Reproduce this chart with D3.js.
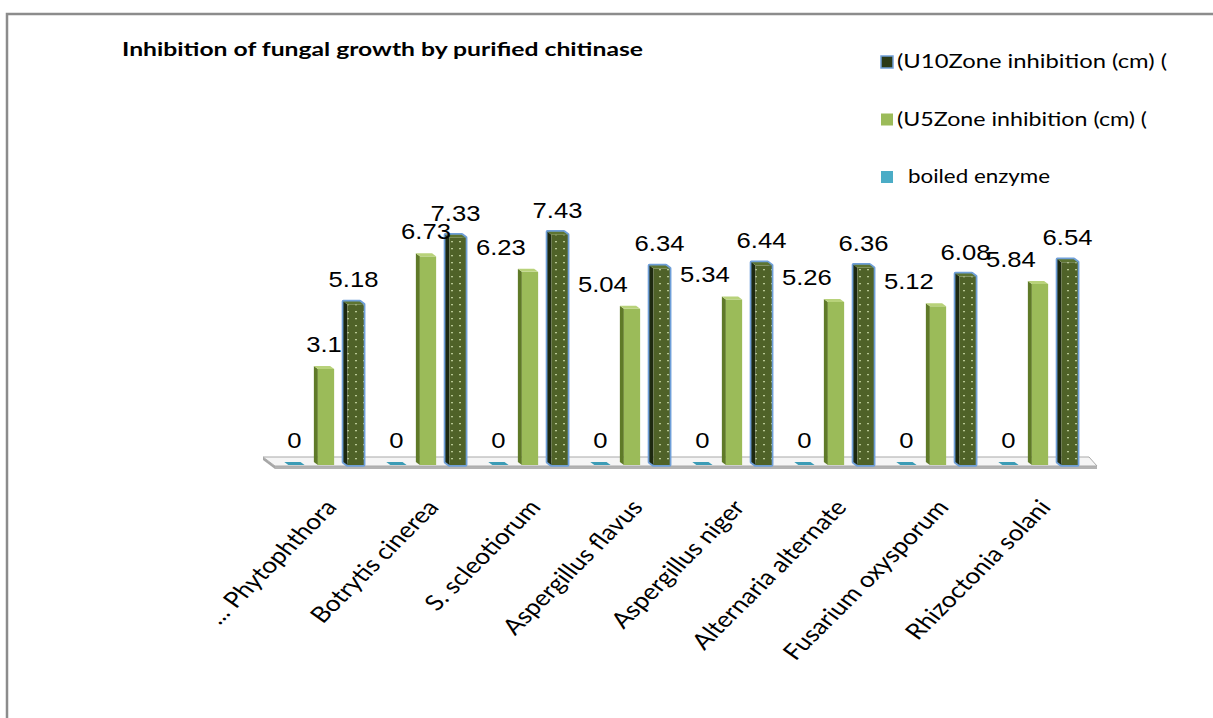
<!DOCTYPE html>
<html>
<head>
<meta charset="utf-8">
<script src="https://cdn.jsdelivr.net/npm/d3@7"></script>
<style>
  html, body { margin: 0; padding: 0; background: #fff; }
  svg { display: block; }
</style>
</head>
<body>
<svg id="chart" width="1213" height="718"></svg>
<script>
// Fungal species tested
const categories = [
  "... Phytophthora", "Botrytis cinerea", "S. scleotiorum", "Aspergillus flavus",
  "Aspergillus niger", "Alternaria alternate", "Fusarium oxysporum", "Rhizoctonia solani"
];
// Zone of inhibition (cm) per treatment
const boiledEnzyme = [0, 0, 0, 0, 0, 0, 0, 0];
const u5Zone  = [3.1, 6.73, 6.23, 5.04, 5.34, 5.26, 5.12, 5.84];
const u10Zone = [5.18, 7.33, 7.43, 6.34, 6.44, 6.36, 6.08, 6.54];
// Series names as shown in the legend
const seriesNames = ["(U10Zone inhibition (cm) (", "(U5Zone inhibition (cm) (", "boiled enzyme"];
// Where each U5 value label sits relative to its column
const u5LabelSide = ["top", "top", "left", "left", "left", "left", "left", "left"];

const title = "Inhibition of fungal  growth by purified chitinase";

const svg = d3.select("#chart");

// Chart frame (top and left rules)
svg.append("path")
  .attr("d", "M7,718 L7,14 L1213,14")
  .attr("fill", "none")
  .attr("stroke", "#8c8c8c")
  .attr("stroke-width", 2.5);

// Scales
const x0 = d3.scaleBand().domain(categories).range([275, 1091]);
const seriesKeys = ["boiled", "u5", "u10"];
const x1 = d3.scaleBand().domain(seriesKeys).range([0, x0.bandwidth()])
  .paddingInner(0.45).paddingOuter(0.45);
const y = d3.scaleLinear().domain([0, 8]).range([465, 217]);

const depthX = 4, depthY = 3;   // oblique depth of columns
const floorDX = 12, floorDY = 9, floorT = 3;

const defs = svg.append("defs");
const pat = defs.append("pattern")
  .attr("id", "dots")
  .attr("patternUnits", "userSpaceOnUse")
  .attr("width", 8).attr("height", 7);
pat.append("rect").attr("width", 8).attr("height", 7).attr("fill", "#4f6228");
pat.append("rect").attr("x", 3).attr("y", 3).attr("width", 2).attr("height", 1.3)
  .attr("fill", "#c9d8a6").attr("opacity", 0.85);

// Floor
const fx0 = x0.range()[0], fx1 = x0.range()[1] + 6;
const fy = y(0) + 1;
const floor = svg.append("g");
floor.append("polygon")
  .attr("points", [[fx0 - floorDX, fy - floorDY], [fx0, fy], [fx0, fy + floorT], [fx0 - floorDX, fy - floorDY + floorT]].join(" "))
  .attr("fill", "#a6a6a6");
floor.append("rect")
  .attr("x", fx0).attr("y", fy).attr("width", fx1 - fx0).attr("height", floorT)
  .attr("fill", "#b3b3b3");
floor.append("polygon")
  .attr("points", [[fx0 - floorDX, fy - floorDY], [fx1 - floorDX + 4, fy - floorDY], [fx1, fy], [fx0, fy]].join(" "))
  .attr("fill", "#f5f5f5")
  .attr("stroke", "#a9a9a9")
  .attr("stroke-width", 1);

// Column drawing helper
function column(g, x, w, v, style) {
  const top = y(v), base = y(0);
  const side = [[x, top], [x - depthX, top - depthY], [x - depthX, base - depthY], [x, base]];
  const cap = [[x, top], [x + w, top], [x + w - depthX, top - depthY], [x - depthX, top - depthY]];
  if (v === 0) {
    g.append("polygon").attr("points", cap.join(" ")).attr("fill", style.cap);
    return;
  }
  if (style.outline) {
    g.append("polygon")
      .attr("points", [[x - depthX, top - depthY], [x + w - depthX, top - depthY], [x + w, top], [x + w, base], [x, base], [x - depthX, base - depthY]].join(" "))
      .attr("fill", "none")
      .attr("stroke", style.outline)
      .attr("stroke-width", 3.5)
      .attr("stroke-linejoin", "round");
  }
  g.append("polygon").attr("points", side.join(" ")).attr("fill", style.side);
  g.append("rect").attr("x", x).attr("y", top).attr("width", w).attr("height", base - top)
    .attr("fill", style.front);
  g.append("polygon").attr("points", cap.join(" ")).attr("fill", style.cap);
}

const styles = {
  boiled: { front: "#4bacc6", side: "#2f8aa3", cap: "#3c9cb6" },
  u5: { front: "#9bbb59", side: "#5f7a28", cap: "#b8d27a" },
  u10: { front: "url(#dots)", side: "#1d2910", cap: "#5d7431", outline: "#6f9fd8" }
};

const series = { boiled: boiledEnzyme, u5: u5Zone, u10: u10Zone };

const bars = svg.append("g");
categories.forEach((c, i) => {
  seriesKeys.forEach(k => {
    column(bars, x0(c) + x1(k), x1.bandwidth(), series[k][i], styles[k]);
  });
});

// Value labels
const labels = svg.append("g")
  .attr("font-family", "'Liberation Sans', Arial, sans-serif")
  .attr("font-size", 22.5)
  .attr("fill", "#000");
categories.forEach((c, i) => {
  seriesKeys.forEach(k => {
    const v = series[k][i];
    const left = x0(c) + x1(k);
    let cx = left + x1.bandwidth() / 2 - 2;
    let anchor = "middle";
    if (k === "u5" && u5LabelSide[i] === "left") {
      cx = left + 4;
      anchor = "end";
    }
    labels.append("text")
      .attr("transform", `translate(${cx},${y(v) - 17}) scale(1.14,1)`)
      .attr("text-anchor", anchor)
      .text(v);
  });
});

// Category axis labels
const catG = svg.append("g")
  .attr("font-family", "Lato, 'Open Sans', sans-serif")
  .attr("font-size", 22)
  .attr("fill", "#000");
categories.forEach(c => {
  const cx = x0(c) + x0.bandwidth() / 2 + 12;
  catG.append("text")
    .attr("transform", `translate(${cx},508) scale(1.2,1) rotate(-50)`)
    .attr("text-anchor", "end")
    .text(c);
});

// Title
svg.append("text")
  .attr("x", 122).attr("y", 56)
  .attr("font-family", "Lato, 'Open Sans', sans-serif")
  .attr("font-weight", "bold")
  .attr("font-size", 19)
  .attr("textLength", 521)
  .attr("lengthAdjust", "spacingAndGlyphs")
  .text(title);

// Legend
const legend = svg.append("g")
  .attr("font-family", "Lato, 'Open Sans', sans-serif")
  .attr("font-size", 18.5);
const legendStyles = [
  { fill: "#2b3a17", stroke: "#6f9fd8", textX: 897, len: 270 },
  { fill: "#9bbb59", stroke: "none", textX: 897, len: 250 },
  { fill: "#4bacc6", stroke: "none", textX: 908, len: 142 }
];
seriesNames.forEach((name, i) => {
  const ly = 55 + i * 57.5;
  const s = legendStyles[i];
  legend.append("rect")
    .attr("x", 881).attr("y", ly + 1).attr("width", 12).attr("height", 12)
    .attr("fill", s.fill)
    .attr("stroke", s.stroke)
    .attr("stroke-width", s.stroke === "none" ? 0 : 1.5);
  legend.append("text")
    .attr("x", s.textX).attr("y", ly + 13)
    .attr("textLength", s.len)
    .attr("lengthAdjust", "spacingAndGlyphs")
    .text(name);
});
</script>
</body>
</html>
